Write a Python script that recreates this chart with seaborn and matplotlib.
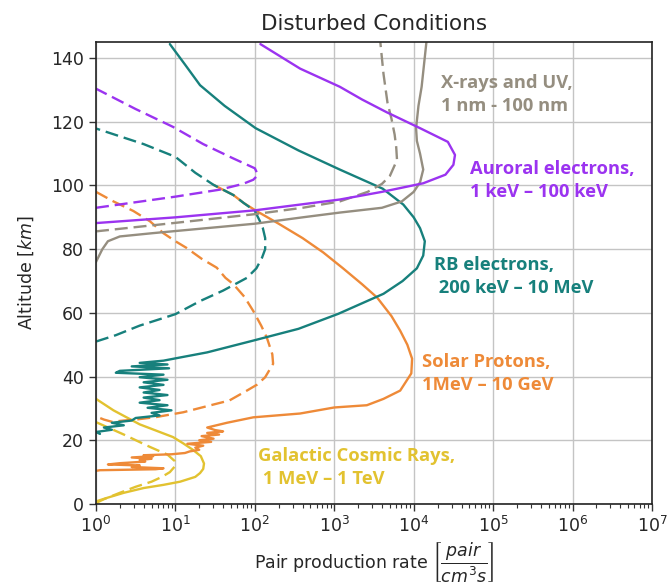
import numpy as np
import pandas as pd
import matplotlib
matplotlib.use("Agg")
import matplotlib.pyplot as plt
from matplotlib.ticker import NullFormatter, FixedLocator, LogFormatterSciNotation
import seaborn as sns

# ---- profiles: altitude [km] and log10 of pair production rate [pair / (cm^3 s)] ----
# X-rays and UV, 1 nm - 100 nm
xray_alt = [76, 80, 82.5, 84, 85, 85.7, 88, 90, 91.5, 93, 95, 98, 101, 105, 110, 114, 118, 125, 131, 138, 145]
xray_log = [0.0, 0.08, 0.15, 0.3, 0.7, 1.0, 2.0, 2.6, 3.07, 3.6, 3.85, 4.0, 4.08, 4.12, 4.08, 4.04, 4.03, 4.06, 4.1, 4.13, 4.16]
xray_q_alt = [85.6, 88, 91, 93, 95, 98, 100.5, 103, 108, 112, 116, 121, 126, 135, 145]
xray_q_log = [0.0, 0.9, 2.0, 2.6, 3.07, 3.42, 3.6, 3.70, 3.79, 3.78, 3.76, 3.72, 3.67, 3.62, 3.58]

# Auroral electrons, 1 keV - 100 keV
aur_alt = [88.2, 90, 92.2, 95.6, 98, 100.7, 103.4, 106.5, 109.6, 113.7, 118, 123, 127, 131, 136.7, 144.4]
aur_log = [0.0, 1.0, 2.0, 3.07, 3.6, 4.12, 4.40, 4.5, 4.52, 4.43, 4.08, 3.66, 3.35, 3.07, 2.57, 2.07]
aur_q_alt = [93, 96.5, 98.7, 100.5, 101.8, 103.3, 105.4, 108.6, 113, 118.4, 124, 130.4]
aur_q_log = [0.0, 1.0, 1.56, 1.85, 1.98, 2.04, 2.0, 1.72, 1.35, 0.97, 0.5, 0.0]

# RB electrons, 200 keV - 10 MeV (upper smooth part, then the noisy tail)
rb_alt = [144.4, 138, 131.5, 125, 118, 111, 105, 99, 94, 90, 86.6, 82.5, 78, 74, 70, 66, 59.7, 55,
          51.3, 47.6, 46, 45.0,
          44.3, 43.8, 43.2, 42.6, 41.8, 41.2, 40.6, 39.8, 39.0, 38.2, 37.4, 36.6, 35.8, 35.0,
          34.2, 33.4, 32.6, 31.8, 31.0, 30.2, 29.4, 28.6, 27.8, 27.0, 26.2, 25.5, 24.7, 24.0,
          23.3, 22.6, 22.0]
rb_log = [0.93, 1.12, 1.31, 1.62, 2.01, 2.55, 3.07, 3.61, 3.87, 4.0, 4.08, 4.14, 4.12, 4.04, 3.86, 3.62, 3.05, 2.55,
          1.98, 1.4, 1.06, 0.85,
          0.55, 0.9, 0.45, 0.92, 0.3, 0.25, 0.85, 0.55, 0.9, 0.6, 0.85, 0.55, 0.8, 0.6,
          0.9, 0.6, 0.8, 0.55, 0.9, 0.65, 0.95, 0.7, 0.8, 0.5, 0.45, 0.2, 0.35, 0.1,
          0.2, 0.0, 0.05]
rb_q_alt = [51, 53, 56, 59.6, 63.7, 67, 71, 74, 77.3, 80, 83.5, 86.7, 89, 92, 94.5, 97, 100.2, 104, 109, 113, 117.9]
rb_q_log = [0.0, 0.25, 0.55, 1.0, 1.31, 1.6, 1.9, 2.02, 2.09, 2.13, 2.13, 2.1, 2.06, 2.0, 1.86, 1.73, 1.48, 1.25, 1.0, 0.6, 0.0]

# Solar protons, 1 MeV - 10 GeV
sp_alt = [100.2, 97, 94.5, 92, 88, 83.5, 79, 74, 69, 64.8, 59, 54.4, 50, 45.6, 41, 35.6, 33, 31, 30.3, 28.4,
          27.2, 25.5, 24.0,
          23.2, 22.8, 22.3, 21.8, 21.3, 20.5, 20.0, 19.5, 18.9, 18.3, 17.7, 17.0, 16.5, 16.0,
          15.6, 15.3, 15.0, 14.6, 14.2, 13.8, 13.3, 12.8, 12.4, 12.1, 11.6, 11.2, 10.9, 10.6, 10.4]
sp_log = [1.48, 1.73, 1.86, 2.02, 2.3, 2.6, 2.86, 3.11, 3.35, 3.54, 3.72, 3.83, 3.92, 3.98, 3.97, 3.83, 3.62, 3.41, 3.0, 2.57,
          1.98, 1.65, 1.40,
          1.50, 1.60, 1.40, 1.55, 1.33, 1.48, 1.30, 1.45, 1.15, 1.35, 1.25, 1.30, 1.18, 1.12,
          0.95, 0.60, 0.72, 0.45, 0.70, 0.55, 0.62, 0.30, 0.15, 0.55, 0.45, 0.85, 0.75, 0.05, 0.0]
sp_q_alt = [98, 95, 92, 88.75, 85, 82.5, 80.4, 77, 74.2, 71, 69, 65, 60.6, 56, 52.3, 47, 44, 41.9, 39.8, 37.5,
            35.6, 32.5, 30.4, 28.8, 27.3, 26.5, 26.2, 25.8, 26.5, 27.5]
sp_q_log = [0.0, 0.22, 0.47, 0.68, 0.85, 1.0, 1.14, 1.33, 1.52, 1.63, 1.73, 1.87, 1.98, 2.08, 2.15, 2.22, 2.23, 2.18, 2.13, 2.03,
            1.9, 1.68, 1.35, 1.10, 0.76, 0.5, 0.35, 0.2, 0.1, 0.0]

# Galactic cosmic rays, 1 MeV - 1 TeV
gcr_alt = [33, 29.4, 25, 21, 19, 17, 15, 12.7, 11, 9.7, 8.5, 7, 6, 5, 3.5, 2, 0.8]
gcr_log = [0.0, 0.22, 0.55, 0.97, 1.1, 1.22, 1.32, 1.36, 1.35, 1.31, 1.25, 1.06, 0.85, 0.6, 0.35, 0.15, 0.0]
gcr_q_alt = [25.7, 21.8, 17.9, 15.5, 13.5, 12, 10, 8.5, 7, 5.4, 3.5, 1.5, 0.3]
gcr_q_log = [0.0, 0.35, 0.68, 0.9, 0.99, 1.0, 0.93, 0.83, 0.7, 0.5, 0.3, 0.1, 0.0]

# axis ticks
x_decades = [0, 1, 2, 3, 4, 5, 6, 7]
y_ticks = [0, 20, 40, 60, 80, 100, 120, 140]

c_gray = "#958e80"
c_purple = "#9b33f0"
c_teal = "#17807c"
c_orange = "#ee8a38"
c_yellow = "#e2c230"

sns.set_style("ticks")
plt.rcParams["font.family"] = ["DejaVu Sans"]
plt.rcParams["mathtext.fontset"] = "dejavusans"

fig = plt.figure(figsize=(6.68, 5.86), dpi=100)
ax = fig.add_axes([0.1437, 0.14, 0.8323, 0.788])
ax.set_xscale("log")

dash = (5.5, 2.5)
# (altitude, log rate, colour, dashed?) in drawing order
profiles = [
    (gcr_alt, gcr_log, c_yellow, False),
    (gcr_q_alt, gcr_q_log, c_yellow, True),
    (sp_alt, sp_log, c_orange, False),
    (sp_q_alt, sp_q_log, c_orange, True),
    (rb_alt, rb_log, c_teal, False),
    (rb_q_alt, rb_q_log, c_teal, True),
    (xray_alt, xray_log, c_gray, False),
    (xray_q_alt, xray_q_log, c_gray, True),
    (aur_q_alt, aur_q_log, c_purple, True),
    (aur_alt, aur_log, c_purple, False),
]
for alt, lg, col, dashed in profiles:
    df = pd.DataFrame({"rate": 10 ** np.asarray(lg, dtype=float), "alt": alt})
    sns.lineplot(data=df, x="rate", y="alt", sort=False, estimator=None,
                 color=col, lw=1.7, ax=ax)
    if dashed:
        ax.lines[-1].set_dashes(dash)

ax.set_xlim(1, 1e7)
ax.set_ylim(0, 145)
ax.xaxis.set_major_locator(FixedLocator([10.0 ** d for d in x_decades]))
ax.xaxis.set_major_formatter(LogFormatterSciNotation())
ax.xaxis.set_minor_locator(FixedLocator([m * 10.0 ** d for d in x_decades[:-1] for m in range(2, 10)]))
ax.xaxis.set_minor_formatter(NullFormatter())
ax.set_yticks(y_ticks)
ax.grid(True, which="major", color="#c4c4c4", lw=1.0)
ax.set_axisbelow(True)
for s in ax.spines.values():
    s.set_color("#222222")
    s.set_linewidth(1.2)
ax.tick_params(axis="both", which="major", labelsize=12.5, length=5, width=1.0, color="#333333")
ax.tick_params(axis="x", which="minor", length=3, width=0.8, color="#333333")

ax.set_title("Disturbed Conditions", fontsize=15.5, pad=9)
ax.set_ylabel("Altitude [$km$]", fontsize=12.5, labelpad=11)
ax.set_xlabel(r"Pair production rate $\left[\dfrac{pair}{cm^3s}\right]$", fontsize=12.5, labelpad=3)

lab = dict(fontsize=13.2, fontweight="bold", family=["Open Sans", "DejaVu Sans"],
           va="center", ha="left", linespacing=1.35)
ax.text(10 ** 4.35, 128.6, "X-rays and UV,\n1 nm - 100 nm", color=c_gray, **lab)
ax.text(10 ** 4.71, 101.5, "Auroral electrons,\n1 keV \u2013 100 keV", color=c_purple, **lab)
ax.text(10 ** 4.25, 71.3, "RB electrons,\n 200 keV \u2013 10 MeV", color=c_teal, **lab)
ax.text(10 ** 4.10, 41.1, "Solar Protons,\n1MeV \u2013 10 GeV", color=c_orange, **lab)
ax.text(10 ** 2.04, 11.4, "Galactic Cosmic Rays,\n 1 MeV \u2013 1 TeV", color=c_yellow, **lab)

fig.savefig("out.png", dpi=100)
